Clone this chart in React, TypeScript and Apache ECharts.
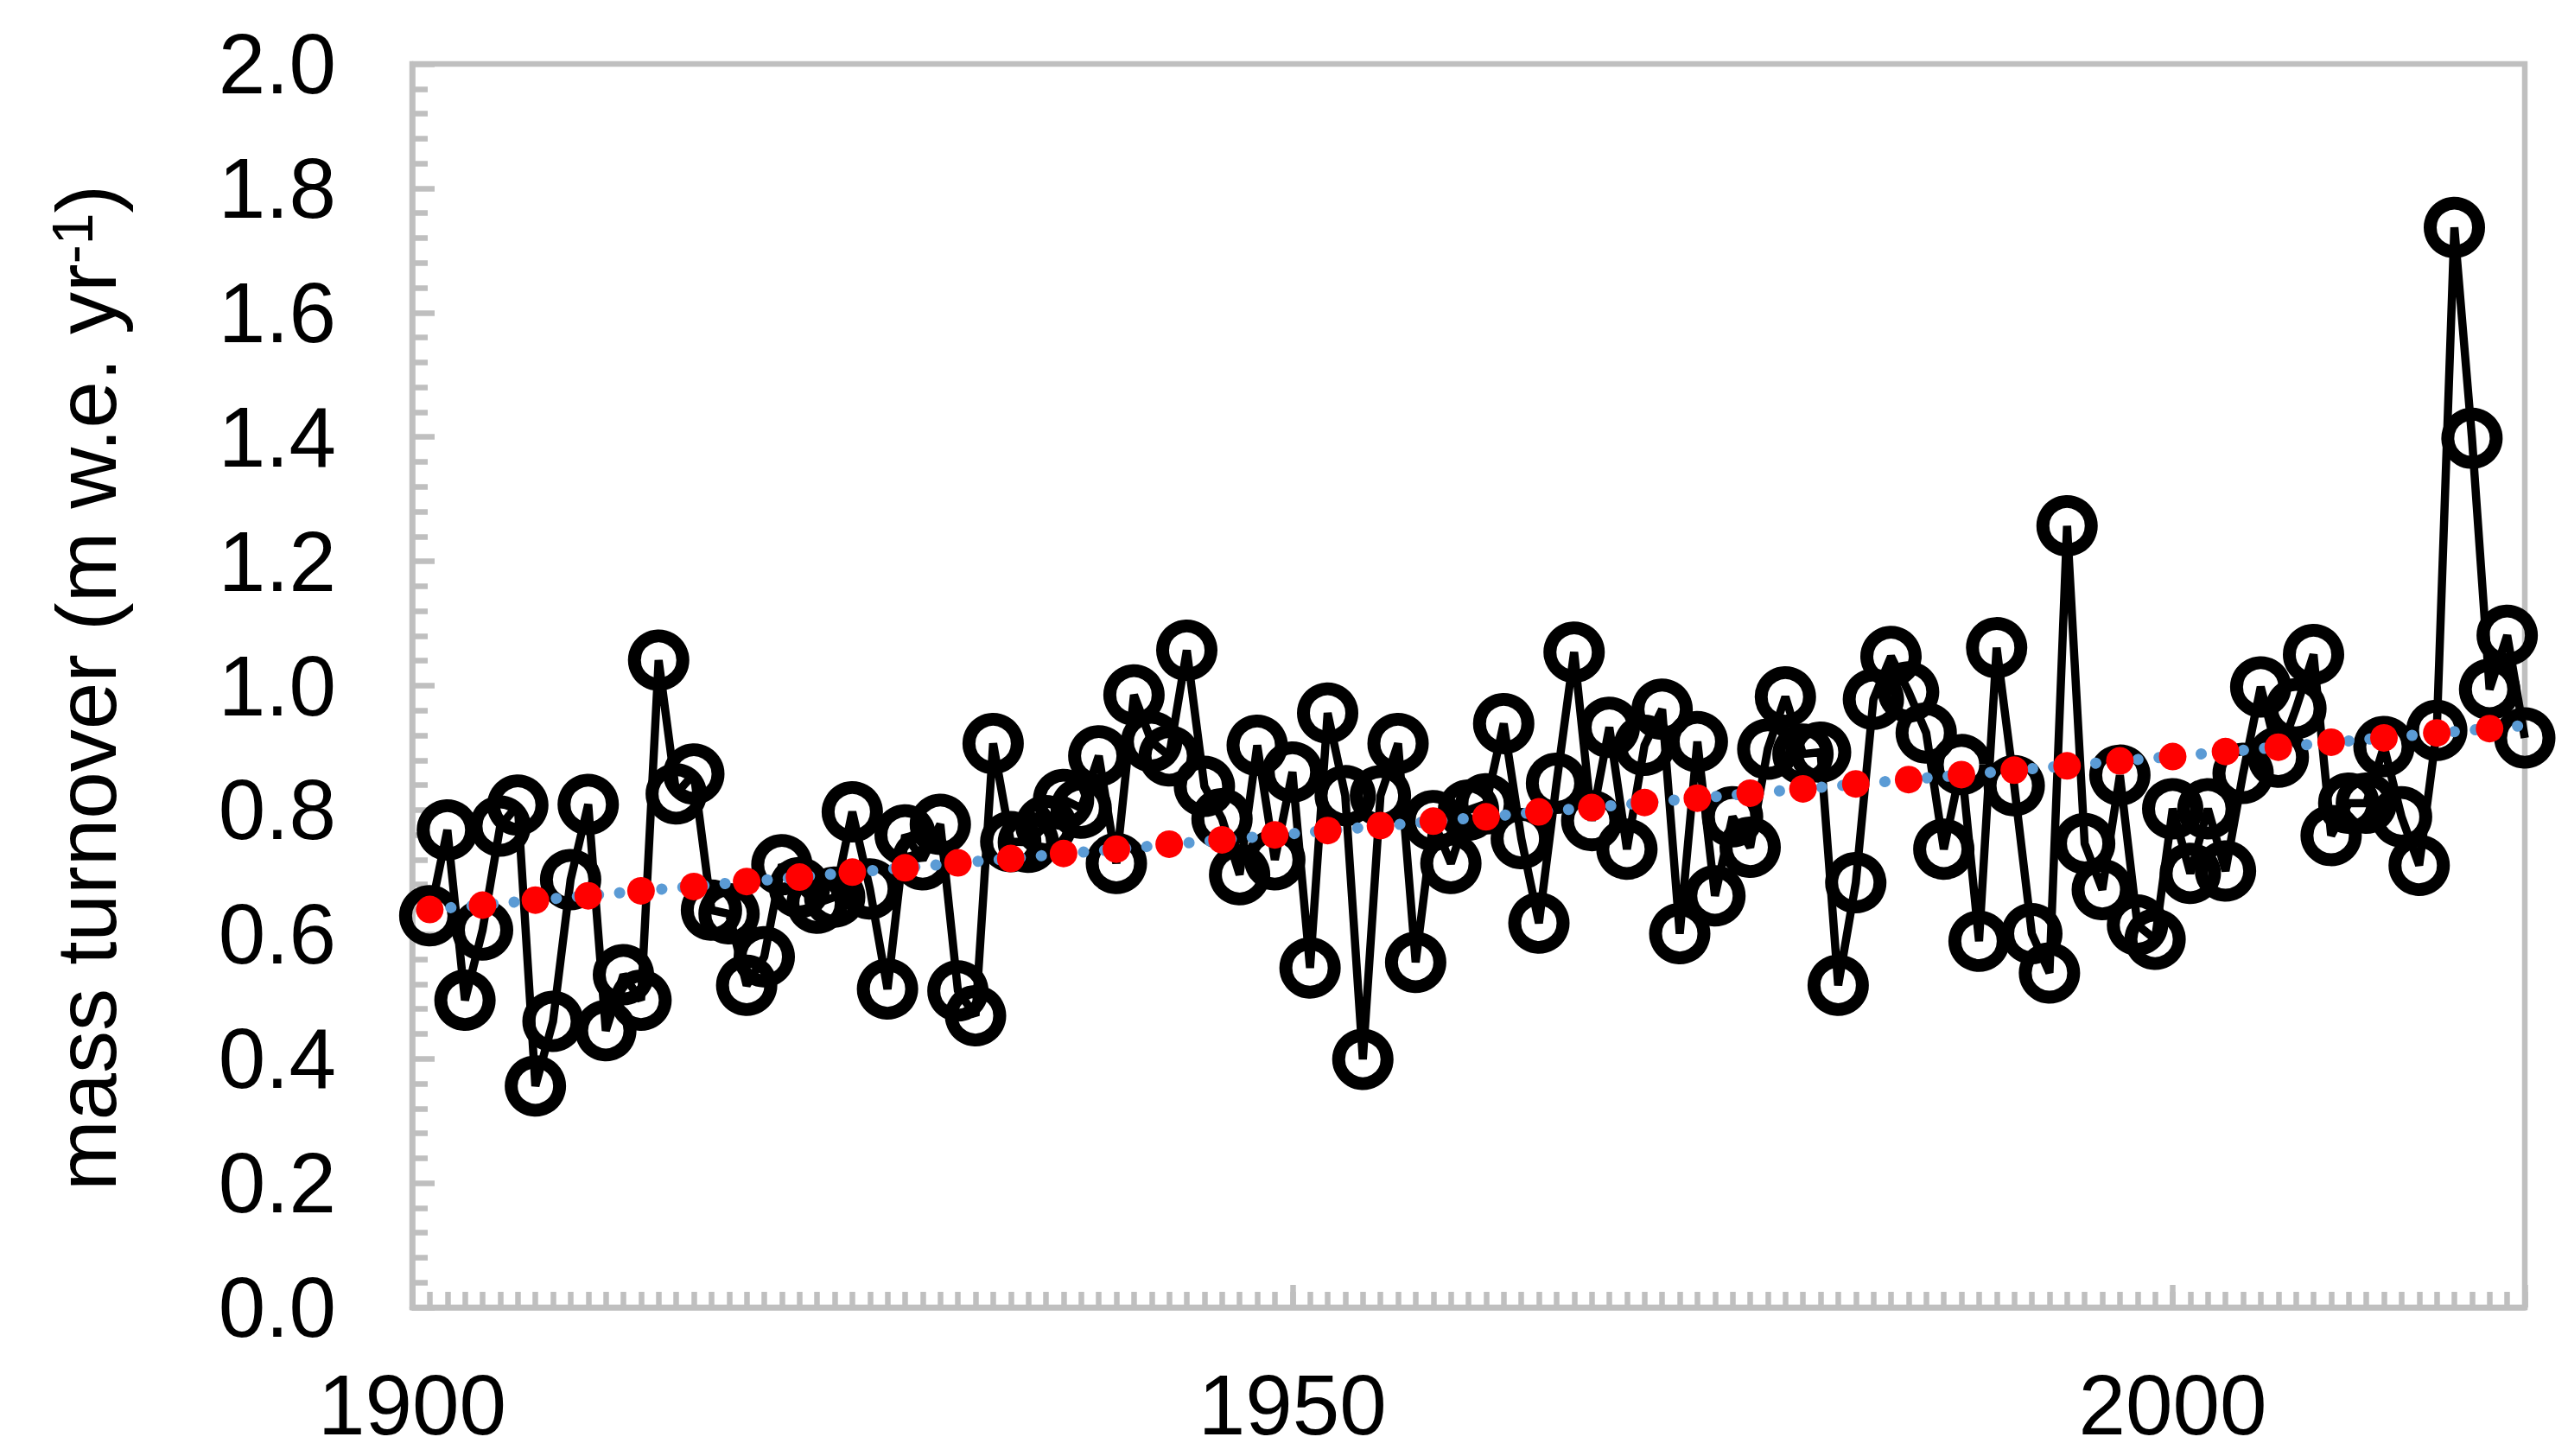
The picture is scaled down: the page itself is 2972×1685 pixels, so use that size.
import React, { useEffect, useRef } from 'react';
import * as echarts from 'echarts';

// Annual mass turnover, one value per year starting at FIRST_YEAR
const FIRST_YEAR = 1901;
const turnover = [
  0.630, 0.768, 0.494, 0.607, 0.774, 0.808, 0.356, 0.460, 0.688, 0.809,
  0.445, 0.535, 0.494, 1.041, 0.826, 0.858, 0.639, 0.633, 0.518, 0.564,
  0.712, 0.675, 0.650, 0.660, 0.797, 0.673, 0.512, 0.760, 0.720, 0.777,
  0.509, 0.469, 0.907, 0.749, 0.748, 0.775, 0.817, 0.803, 0.887, 0.714,
  0.985, 0.910, 0.887, 1.057, 0.838, 0.786, 0.696, 0.904, 0.720, 0.861,
  0.546, 0.956, 0.823, 0.399, 0.823, 0.907, 0.555, 0.783, 0.714, 0.800,
  0.810, 0.939, 0.754, 0.618, 0.843, 1.054, 0.783, 0.933, 0.737, 0.904,
  0.962, 0.601, 0.910, 0.662, 0.789, 0.740, 0.898, 0.982, 0.890, 0.893,
  0.518, 0.683, 0.978, 1.047, 0.990, 0.924, 0.737, 0.873, 0.589, 1.061,
  0.839, 0.601, 0.538, 1.257, 0.746, 0.672, 0.856, 0.615, 0.592, 0.802,
  0.698, 0.802, 0.702, 0.859, 0.998, 0.885, 0.963, 1.050, 0.759, 0.811,
  0.811, 0.902, 0.789, 0.711, 0.928, 1.737, 1.398, 0.994, 1.081, 0.916,
];

// Red trend markers (every third year)
const trendYears = [
  1901, 1904, 1907, 1910, 1913, 1916, 1919, 1922, 1925, 1928,
  1931, 1934, 1937, 1940, 1943, 1946, 1949, 1952, 1955, 1958,
  1961, 1964, 1967, 1970, 1973, 1976, 1979, 1982, 1985, 1988,
  1991, 1994, 1997, 2000, 2003, 2006, 2009, 2012, 2015, 2018,
];
const trendValues = [
  0.640, 0.647, 0.655, 0.662, 0.670, 0.677, 0.685, 0.692, 0.700, 0.707,
  0.715, 0.722, 0.730, 0.737, 0.745, 0.752, 0.760, 0.767, 0.775, 0.782,
  0.789, 0.797, 0.804, 0.812, 0.819, 0.827, 0.834, 0.842, 0.849, 0.857,
  0.864, 0.871, 0.879, 0.886, 0.894, 0.901, 0.909, 0.916, 0.924, 0.931,
];

// Blue dotted linear fit
const fitYears = [1901, 2020];
const fitValues = [0.640, 0.936];

const xTickLabels = [1900, 1950, 2000];
const yTitleMain = 'mass turnover (m w.e. yr';
const yTitleSup = '-1';
const yTitleEnd = ')';

const GRAY = '#BFBFBF';
const FONT = '"Liberation Sans", Arial, sans-serif';

export default function App() {
  const ref = useRef<HTMLDivElement>(null);

  useEffect(() => {
    const chart = echarts.init(ref.current as HTMLDivElement, null, { renderer: 'svg' });

    const mainData = turnover.map((v, i) => [FIRST_YEAR + i, v]);
    const trendData = trendYears.map((y, i) => [y, trendValues[i]]);
    const fitData = fitYears.map((y, i) => [y, fitValues[i]]);

    chart.setOption({
      animation: false,
      backgroundColor: '#ffffff',
      grid: {
        left: 477,
        right: 50,
        top: 74,
        bottom: 172,
        show: true,
        borderColor: GRAY,
        borderWidth: 6.5,
        backgroundColor: 'transparent',
        containLabel: false,
        outerBoundsMode: 'none',
      },
      xAxis: [
        {
          type: 'value',
          min: 1900,
          max: 2020,
          interval: 1,
          position: 'bottom',
          axisLine: { show: true, onZero: false, lineStyle: { color: GRAY, width: 6.5 } },
          axisTick: { show: true, inside: true, length: 18, lineStyle: { color: GRAY, width: 6.5 } },
          axisLabel: {
            show: true,
            margin: 64,
            fontSize: 98,
            fontFamily: FONT,
            color: '#000',
            formatter: (v: number) => (xTickLabels.includes(Math.round(v)) && Math.abs(v - Math.round(v)) < 1e-6 ? String(Math.round(v)) : ''),
          },
          splitLine: { show: false },
        },
        {
          type: 'value',
          min: 1900,
          max: 2020,
          interval: 50,
          position: 'bottom',
          axisLine: { show: false, onZero: false },
          axisTick: { show: true, inside: true, length: 26, lineStyle: { color: GRAY, width: 6.5 } },
          axisLabel: { show: false },
          splitLine: { show: false },
        },
      ],
      yAxis: {
        type: 'value',
        min: 0,
        max: 2,
        interval: 0.2,
        axisLine: { show: true, onZero: false, lineStyle: { color: GRAY, width: 6.5 } },
        axisTick: { show: true, inside: true, length: 26, lineStyle: { color: GRAY, width: 6.5 } },
        minorTick: { show: true, splitNumber: 5, length: 18, lineStyle: { color: GRAY, width: 6.5 } },
        axisLabel: {
          margin: 88,
          fontSize: 98,
          fontFamily: FONT,
          color: '#000',
          formatter: (v: number) => v.toFixed(1),
        },
        splitLine: { show: false },
        minorSplitLine: { show: false },
      },
      graphic: [
        {
          type: 'text',
          x: 100,
          y: 796,
          rotation: Math.PI / 2,
          style: {
            text: `{a|${yTitleMain}}{s|${yTitleSup}}{a|${yTitleEnd}}`,
            align: 'center',
            verticalAlign: 'middle',
            fill: '#000',
            fontFamily: FONT,
            fontSize: 98,
            rich: {
              a: { fontSize: 98, fontFamily: FONT, lineHeight: 98, verticalAlign: 'bottom', fill: '#000' },
              s: { fontSize: 66, fontFamily: FONT, lineHeight: 66, verticalAlign: 'top', fill: '#000' },
            },
          },
        },
      ],
      series: [
        {
          name: 'mass turnover',
          type: 'line',
          xAxisIndex: 0,
          data: mainData,
          symbol: 'circle',
          symbolSize: 56,
          showSymbol: true,
          showAllSymbol: true,
          itemStyle: { color: 'rgba(0,0,0,0)', borderColor: '#000', borderWidth: 15 },
          lineStyle: { color: '#000', width: 9.5 },
          z: 2,
          clip: false,
        },
        {
          name: 'fit',
          type: 'line',
          xAxisIndex: 0,
          data: fitData,
          symbol: 'none',
          lineStyle: { color: '#5B9BD5', width: 13, type: [0.1, 24.4], cap: 'round', opacity: 1 },
          z: 3,
        },
        {
          name: 'trend',
          type: 'scatter',
          xAxisIndex: 0,
          data: trendData,
          symbol: 'circle',
          symbolSize: 32,
          itemStyle: { color: '#FF0000', opacity: 1 },
          z: 4,
        },
      ],
    });

    return () => chart.dispose();
  }, []);

  return (
    <div
      ref={ref}
      style={{ position: 'fixed', left: 0, top: 0, width: 2972, height: 1685, background: '#fff' }}
    />
  );
}
